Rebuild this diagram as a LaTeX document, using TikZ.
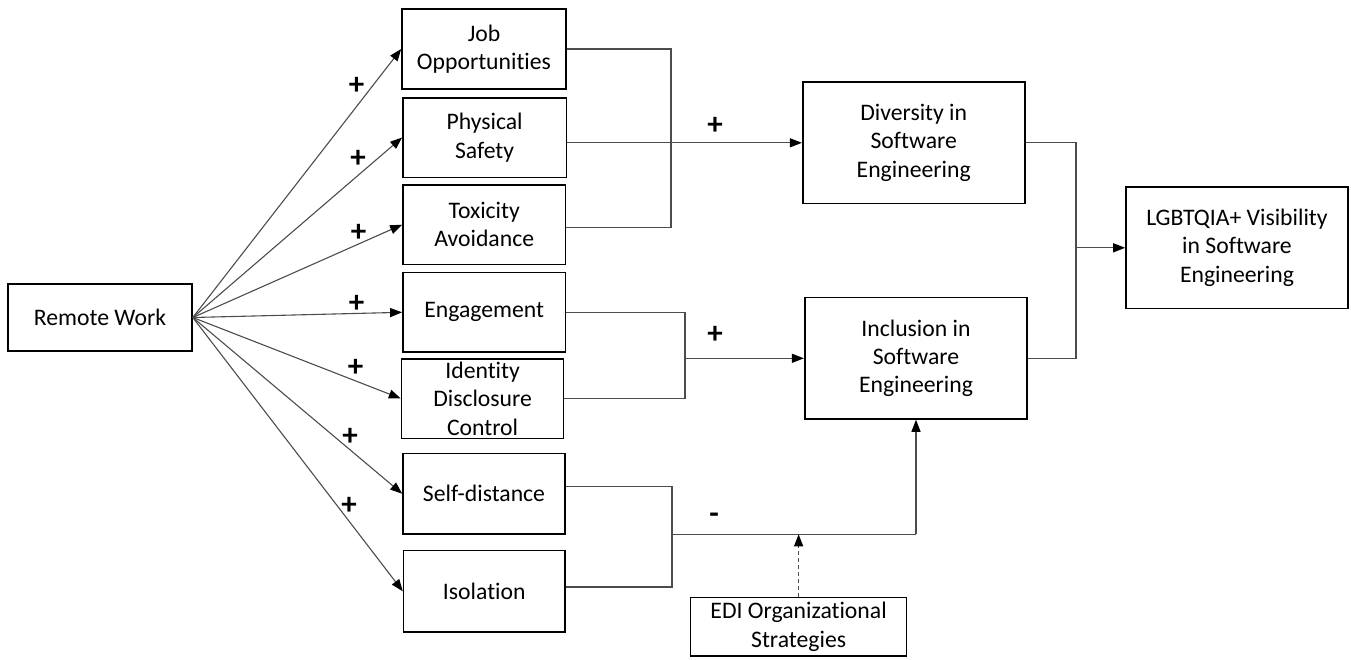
\documentclass[tikz,border=0pt]{standalone}
\usepackage{fontspec}
\setmainfont{Carlito}[RawFeature={-liga;-clig;-dlig;-calt;-rlig}]
\usetikzlibrary{arrows.meta,calc}
\begin{document}
\begin{tikzpicture}[x=1pt,y=-1pt,
  box/.style={draw=black,line width=1.6pt,inner sep=0pt,align=center,
    font=\fontsize{23.7}{28.4}\selectfont},
  conn/.style={draw=black!70,line width=1.1pt},
  arr/.style={conn,-{Triangle[length=12pt,width=9pt,color=black]}},
  sign/.style={font=\fontsize{31}{34}\selectfont\bfseries,inner sep=0pt}]
\useasboundingbox (0,0) rectangle (1351,659);
% boxes
\node[box,minimum width=184pt,minimum height=67pt] (remote) at (100,317.5) {Remote Work};
\node[box,minimum width=164pt,minimum height=80pt] (job) at (484,49) {Job\\Opportunities};
\node[box,minimum width=163.4pt,minimum height=79.6pt] (phys) at (484.6,137.5) {Physical\\Safety};
\node[box,minimum width=162.6pt,minimum height=79.3pt] (tox) at (484.2,224.7) {Toxicity\\Avoidance};
\node[box,minimum width=162.6pt,minimum height=79.3pt] (eng) at (484.2,312.3) {Engagement};
\node[box,minimum width=162pt,minimum height=79.6pt] (ident) at (482.6,398.5) {Identity\\Disclosure\\Control};
\node[box,minimum width=162pt,minimum height=80.7pt] (self) at (484,493.7) {Self-distance};
\node[box,minimum width=161.3pt,minimum height=81.3pt] (iso) at (484.3,591.3) {Isolation};
\node[box,minimum width=222pt,minimum height=121.7pt] (div) at (913.7,142.8) {Diversity in\\Software\\Engineering};
\node[box,minimum width=222.5pt,minimum height=121.3pt] (incl) at (916,358.3) {Inclusion in\\Software\\Engineering};
\node[box,minimum width=222pt,minimum height=121.7pt] (lgbt) at (1237,247.8) {LGBTQIA+ Visibility\\in Software\\Engineering};
\node[box,minimum width=216pt,minimum height=58.3pt] (edi) at (798.6,626.8) {EDI Organizational\\Strategies};
% fan arrows
\foreach \t in {job,phys,tox,eng,ident,self,iso}
  \draw[arr] (remote.east) -- (\t.west);
% junction coordinates
\coordinate (j1) at (671,142.8);
\coordinate (toxo) at ($(tox.east)+(0,3)$);
\coordinate (j2) at (685,358.3);
\coordinate (selfo) at ($(self.east)+(0,-7)$);
\coordinate (isoo) at ($(iso.east)+(0,-4.3)$);
\coordinate (j3) at (672,534.3);
\coordinate (j4) at (916,534.3);
\coordinate (j5) at (798.6,534.3);
\coordinate (j6) at (1076,247.8);
% bracket 1
\draw[conn] (job.east) -| (j1) |- (toxo);
\draw[arr] (phys.east |- div.west) -- (div.west);
% bracket 2
\draw[conn] (eng.east) -| (j2) |- (ident.east);
\draw[arr] (j2) -- (incl.west);
% bracket 3
\draw[conn] (selfo) -| (j3) |- (isoo);
\draw[conn] (j3) -- (j4);
\draw[arr] (j4) -- (incl.south);
\draw[arr,dashed,dash pattern=on 4pt off 3pt] (edi.north) -- (j5);
% bracket 4
\draw[conn] (div.east) -| (j6) |- (incl.east);
\draw[arr] (j6) -- (lgbt.west);
% signs
\node[sign] (p1) at (356.5,86) {+};
\node[sign] (p2) at (358,159) {+};
\node[sign] (p3) at (358.6,233.3) {+};
\node[sign] (p4) at (356.5,304.3) {+};
\node[sign] (p5) at (355.6,367.7) {+};
\node[sign] (p6) at (350,436.7) {+};
\node[sign] (p7) at (349,505.7) {+};
\node[sign] (p8) at (715,126) {+};
\node[sign] (p9) at (715,335) {+};
\node[sign] (m1) at (714,518) {-};
\end{tikzpicture}
\end{document}
